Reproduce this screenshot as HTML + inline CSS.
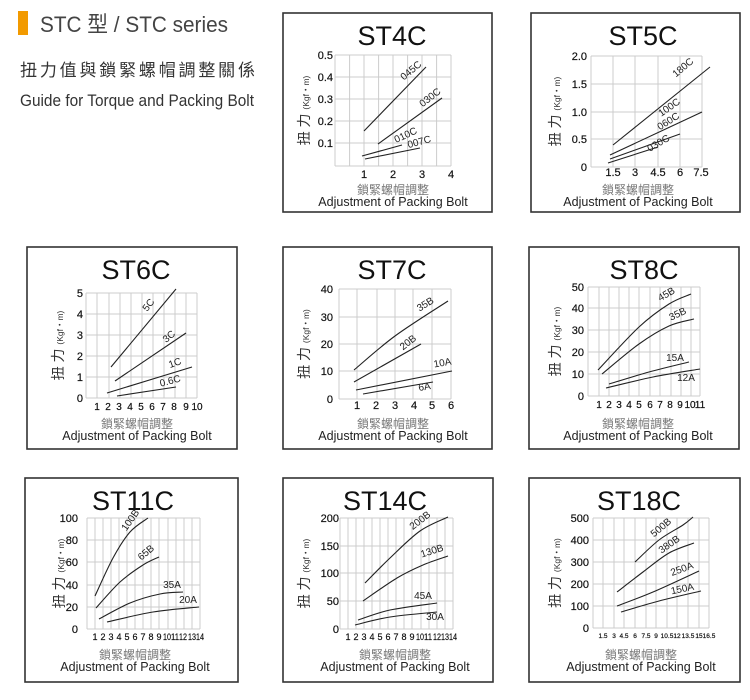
<!DOCTYPE html>
<html><head><meta charset="utf-8"><style>
html,body{margin:0;padding:0;background:#fff;}
svg{display:block;font-family:"Liberation Sans","Noto Sans CJK TC",sans-serif;}
</style></head><body>
<svg id="s" width="750" height="700" viewBox="0 0 750 700" xmlns="http://www.w3.org/2000/svg">
<rect x="18" y="11" width="10" height="24" fill="#f29a00"/>
<text x="40" y="32" font-size="22" fill="#444" textLength="188" lengthAdjust="spacingAndGlyphs">STC 型 / STC series</text>
<text x="20" y="76" font-size="17" fill="#333" textLength="235" lengthAdjust="spacing">扭力值與鎖緊螺帽調整關係</text>
<text x="20" y="106" font-size="17" fill="#333" textLength="234" lengthAdjust="spacingAndGlyphs">Guide for Torque and Packing Bolt</text>
</svg>
<script>
const NS="http://www.w3.org/2000/svg";const S=document.getElementById('s');
function el(t,a,txt){const e=document.createElementNS(NS,t);for(const k in a)e.setAttribute(k,a[k]);if(txt!==undefined)e.textContent=txt;S.appendChild(e);return e;}
function smooth(p){if(p.length==2)return `M${p[0][0]},${p[0][1]}L${p[1][0]},${p[1][1]}`;let d=`M${p[0][0]},${p[0][1]}`;for(let i=0;i<p.length-1;i++){const p0=p[i-1]||p[i],p1=p[i],p2=p[i+1],p3=p[i+2]||p2;const c1=[p1[0]+(p2[0]-p0[0])/6,p1[1]+(p2[1]-p0[1])/6],c2=[p2[0]-(p3[0]-p1[0])/6,p2[1]-(p3[1]-p1[1])/6];d+=`C${c1[0]},${c1[1]} ${c2[0]},${c2[1]} ${p2[0]},${p2[1]}`;}return d;}
const charts=[
{box:[283,13,492,212],t:"ST4C",tc:[392,45],bc:393,yt:305,vx:[335,349.6,364,378.6,393,407.6,422,436.6,451],right:451,hy:[[55,"0.5"],[77,"0.4"],[99,"0.3"],[121,"0.2"],[143,"0.1"],[166,""]],yr:333,xl:[[364,"1"],[393,"2"],[422,"3"],[451,"4"]],xly:178,xf:11,
 cur:[[[364,131],[426,67]],[[378,144],[442,98]],[[362,156],[402,145]],[[365,159],[420,148]]],
 lab:[[413,73,-40,"045C"],[432,100,-38,"030C"],[407,138,-25,"010C"],[420,145,-15,"007C"]]},
{box:[531,13,740,212],t:"ST5C",tc:[643,45],bc:638,yt:556,vx:[591,613,635,658,680,702],right:702,hy:[[56,"2.0"],[84,"1.5"],[112,"1.0"],[139,"0.5"],[167,"0"]],yr:587,xl:[[613,"1.5"],[635,"3"],[658,"4.5"],[680,"6"],[701,"7.5"]],xly:176,xf:11,
 cur:[[[613,145],[710,67]],[[610,155],[702,112]],[[610,159],[680,134]],[[608,163],[658,147]]],
 lab:[[685,70,-40,"180C"],[671,110,-35,"100C"],[670,124,-32,"060C"],[660,146,-30,"030C"]]},
{box:[27,247,237,449],t:"ST6C",tc:[136,279],bc:137,yt:59,vx:[86,97,109,120,131,142,153,164,175,186,197],right:197,hy:[[293,"5"],[314,"4"],[335,"3"],[356,"2"],[377,"1"],[398,"0"]],yr:83,xl:[[97,"1"],[108,"2"],[119,"3"],[130,"4"],[141,"5"],[152,"6"],[163,"7"],[174,"8"],[186,"9"],[197,"10"]],xly:410,xf:10,
 cur:[[[111,367],[176,289]],[[115,381],[186,333]],[[107,393],[192,367]],[[117,396],[176,387]]],
 lab:[[151,307,-52,"5C"],[171,339,-40,"3C"],[176,366,-20,"1C"],[171,384,-15,"0.6C"]]},
{box:[283,247,492,449],t:"ST7C",tc:[392,279],bc:393,yt:305,vx:[339,357,377,395,413,432,451],right:451,hy:[[289,"40"],[317,"30"],[344,"20"],[371,"10"],[399,"0"]],yr:333,xl:[[357,"1"],[376,"2"],[395,"3"],[414,"4"],[432,"5"],[451,"6"]],xly:409,xf:11,
 cur:[[[354,370],[395,336],[448,301]],[[354,382],[421,344]],[[356,390],[452,371]],[[363,394],[433,382]]],
 lab:[[427,307,-32,"35B"],[410,345,-38,"20B"],[443,366,-10,"10A"],[425,390,-10,"6A"]]},
{box:[529,247,739,449],t:"ST8C",tc:[644,279],bc:638,yt:556,vx:[588,599,609,619,629,639,650,660,671,681,691,700],right:700,hy:[[287,"50"],[308,"40"],[330,"30"],[352,"20"],[374,"10"],[396,"0"]],yr:584,xl:[[599,"1"],[609,"2"],[619,"3"],[629,"4"],[639,"5"],[650,"6"],[660,"7"],[670,"8"],[680,"9"],[690,"10"],[700,"11"]],xly:408,xf:10,
 cur:[[[598,370],[639,327],[669,304],[691,294]],[[602,374],[639,344],[669,326],[694,319]],[[609,384],[649,372],[689,362]],[[606,388],[653,377],[700,369]]],
 lab:[[668,297,-30,"45B"],[679,317,-25,"35B"],[675,361,0,"15A"],[686,381,0,"12A"]]},
{box:[25,478,238,682],t:"ST11C",tc:[133,510],bc:135,yt:60,vx:[87,95,103,111,119,127,135,143,151,159,168,176,184,192,200],right:200,hy:[[518,"100"],[540,"80"],[562,"60"],[585,"40"],[607,"20"],[629,"0"]],yr:78,xl:[[95,"1"],[103,"2"],[111,"3"],[119,"4"],[127,"5"],[135,"6"],[143,"7"],[151,"8"],[159,"9"],[167,"10"],[175,"11"],[183,"12"],[192,"13"],[200,"14"]],xly:640,xf:9,
 cur:[[[95,596],[113,558],[130,532],[148,518]],[[96,608],[120,582],[143,565],[159,557]],[[99,619],[130,603],[160,594],[183,592]],[[107,622],[153,612],[199,607]]],
 lab:[[133,522,-55,"100B"],[148,555,-40,"65B"],[172,588,0,"35A"],[188,603,0,"20A"]]},
{box:[283,478,493,682],t:"ST14C",tc:[385,510],bc:395,yt:305,vx:[340,348,356,364,372,380,388,396,404,412,421,429,437,445,453],right:453,hy:[[518,"200"],[546,"150"],[573,"100"],[601,"50"],[629,"0"]],yr:339,xl:[[348,"1"],[356,"2"],[364,"3"],[372,"4"],[380,"5"],[388,"6"],[396,"7"],[404,"8"],[412,"9"],[420,"10"],[428,"11"],[437,"12"],[445,"13"],[453,"14"]],xly:640,xf:9,
 cur:[[[365,583],[390,558],[420,531],[448,517]],[[363,601],[397,578],[423,565],[448,556]],[[358,620],[390,610],[437,603]],[[355,625],[390,617],[437,612]]],
 lab:[[422,523,-38,"200B"],[433,554,-18,"130B"],[423,599,0,"45A"],[435,620,0,"30A"]]},
{box:[529,478,740,682],t:"ST18C",tc:[639,510],bc:641,yt:556,vx:[593,603,614,624,635,646,656,667,677,688,699,709],right:709,hy:[[518,"500"],[540,"400"],[562,"300"],[584,"200"],[606,"100"],[628,"0"]],yr:589,xl:[[603,"1.5"],[614,"3"],[624,"4.5"],[635,"6"],[646,"7.5"],[656,"9"],[667,"10.5"],[677,"12"],[688,"13.5"],[699,"15"],[709,"16.5"]],xly:638,xf:6.5,
 cur:[[[635,562],[659,540],[683,525],[693,517]],[[617,592],[643,572],[669,553],[694,543]],[[617,606],[653,592],[699,571]],[[621,612],[659,601],[701,591]]],
 lab:[[663,530,-40,"500B"],[671,547,-35,"380B"],[683,572,-20,"250A"],[683,592,-12,"150A"]]}
];
for(const c of charts){
 const [x0,y0,x1,y1]=c.box;
 el('rect',{x:x0,y:y0,width:x1-x0,height:y1-y0,fill:'#fff',stroke:'#333','stroke-width':1.6});
 el('text',{x:c.tc[0],y:c.tc[1],'font-size':27,'text-anchor':'middle',fill:'#111'},c.t);
 const top=c.hy[0][0],bot=c.hy[c.hy.length-1][0],left=c.vx[0];
 for(const v of c.vx)el('line',{x1:v,y1:top,x2:v,y2:bot,stroke:'#ccc','stroke-width':1});
 for(const h of c.hy)el('line',{x1:left,y1:h[0],x2:c.right,y2:h[0],stroke:'#ccc','stroke-width':1});
 for(const h of c.hy)if(h[1])el('text',{x:c.yr,y:h[0]+4,'font-size':11,'text-anchor':'end',fill:'#111',stroke:'#111','stroke-width':0.2},h[1]);
 const dense=c.xl.length>=14;
 for(const l of c.xl){const a={x:l[0],y:c.xly,'font-size':c.xf,'text-anchor':'middle',fill:'#111',stroke:'#111','stroke-width':0.2};
  if(dense&&l[1].length==2){a.textLength=8;a.lengthAdjust='spacingAndGlyphs';}
  el('text',a,l[1]);}
 for(const p of c.cur)el('path',{d:smooth(p),fill:'none',stroke:'#222','stroke-width':1.1});
 for(const l of c.lab)el('text',{x:0,y:0,'font-size':10,'text-anchor':'middle',fill:'#222',transform:`translate(${l[0]},${l[1]}) rotate(${l[2]})`},l[3]);
 const my=(top+bot)/2;
 const g=el('text',{x:0,y:0,'font-size':14,'text-anchor':'middle',fill:'#333',transform:`translate(${c.yt+4},${my}) rotate(-90)`});
 const t1=document.createElementNS(NS,'tspan');t1.textContent='扭 力 ';g.appendChild(t1);
 const t2=document.createElementNS(NS,'tspan');t2.setAttribute('font-size','8.5');t2.textContent='(Kgf・m)';g.appendChild(t2);
 el('text',{x:c.bc,y:y0+181,'font-size':12,'text-anchor':'middle',fill:'#777'},'鎖緊螺帽調整');
 el('text',{x:c.bc,y:y0+193,'font-size':12.5,'text-anchor':'middle',fill:'#222'},'Adjustment of Packing Bolt');
}
</script>
</body></html>
